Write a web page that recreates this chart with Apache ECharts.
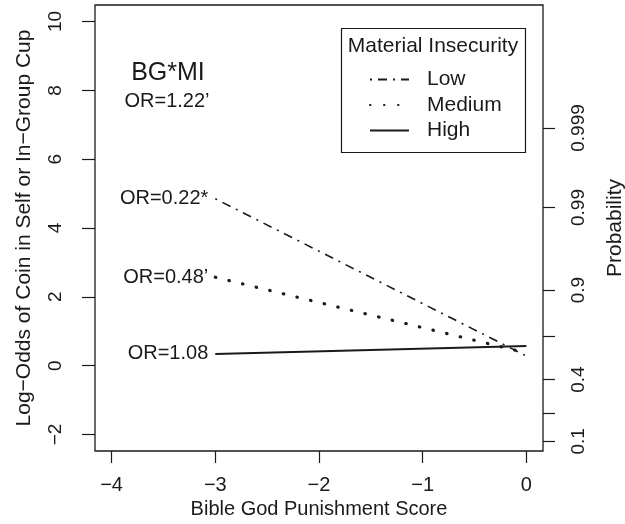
<!DOCTYPE html>
<html>
<head>
<meta charset="utf-8">
<script src="https://cdn.jsdelivr.net/npm/echarts@6/dist/echarts.min.js"></script>
<style>
  html, body { margin: 0; padding: 0; background: #fff; }
  #main { width: 625px; height: 524px; }
</style>
</head>
<body>
<div id="main"></div>
<script>
// ticks
const xTicks = [-4, -3, -2, -1, 0];
const yTicks = [-2, 0, 2, 4, 6, 8, 10];
const probTicks = [0.1, 0.2, 0.4, 0.7, 0.9, 0.99, 0.999];
const probLabels = [0.1, 0.4, 0.9, 0.99, 0.999];

// predicted log-odds at x = -3 and x = 0
const xValues = [-3, 0];
const groups = ['Low', 'Medium', 'High'];
const lowOdds = [4.85, 0.28];
const mediumOdds = [2.57, 0.37];
const highOdds = [0.34, 0.57];
const orLabels = ['OR=0.22*', 'OR=0.48\u2019', 'OR=1.08'];

const FONT = '"Liberation Sans", Arial, Helvetica, sans-serif';
const INK = '#1a1a1a';

const logit = p => Math.log(p / (1 - p));
const minus = v => (v < 0 ? '\u2212' + Math.abs(v) : String(v));

function lineData(vals, label) {
  return xValues.map((x, i) => {
    if (i === 0) {
      return {
        value: [x, vals[i]],
        symbol: 'circle',
        symbolSize: 0.01,
        label: {
          show: true, position: 'left', distance: 7,
          formatter: label, fontSize: 20, fontFamily: FONT, color: INK
        }
      };
    }
    return [x, vals[i]];
  });
}

const lineStyles = [
  { color: INK, width: 1.6, type: [2, 6, 9, 6] },
  { color: INK, width: 3.2, type: [0.5, 13.5], cap: 'round' },
  { color: INK, width: 2, type: 'solid' }
];
const oddsSets = [lowOdds, mediumOdds, highOdds];

const chart = echarts.init(document.getElementById('main'));

const option = {
  animation: false,
  textStyle: { fontFamily: FONT },
  grid: {
    left: 95, right: 82, top: 5, bottom: 73,
    outerBoundsMode: 'none',
    containLabel: false,
    show: true, borderColor: INK, borderWidth: 1.3, backgroundColor: 'transparent'
  },
  legend: {
    orient: 'vertical',
    left: 369, top: 69,
    padding: 0,
    itemWidth: 39, itemHeight: 14, itemGap: 4.5,
    selectedMode: false,
    data: groups,
    itemStyle: { opacity: 0, color: 'rgba(0,0,0,0)', borderWidth: 0 },
    textStyle: { fontSize: 21, fontFamily: FONT, color: INK, lineHeight: 20, padding: [0, 0, 0, 13] }
  },
  xAxis: {
    type: 'value',
    min: -4.16, max: 0.16,
    name: 'Bible God Punishment Score',
    nameLocation: 'middle', nameGap: 44,
    nameTextStyle: { fontSize: 20, color: INK, fontFamily: FONT },
    axisLine: { show: false, onZero: false },
    axisTick: { show: true, length: 12, customValues: xTicks, lineStyle: { color: INK, width: 1.2 } },
    axisLabel: { customValues: xTicks, formatter: minus, fontSize: 20, color: INK, margin: 24, fontFamily: FONT },
    splitLine: { show: false }
  },
  yAxis: [
    {
      type: 'value',
      min: -2.48, max: 10.48,
      name: 'Log\u2212Odds of Coin in Self or In\u2212Group Cup',
      nameLocation: 'middle', nameGap: 60, nameRotate: 90,
      nameTextStyle: { fontSize: 21, color: INK, fontFamily: FONT },
      axisLine: { show: false, onZero: false },
      axisTick: { show: true, length: 13, customValues: yTicks, lineStyle: { color: INK, width: 1.2 } },
      axisLabel: { customValues: yTicks, formatter: minus, rotate: 90, fontSize: 19, color: INK, margin: 30, fontFamily: FONT },
      splitLine: { show: false }
    },
    {
      type: 'value',
      position: 'right',
      min: -2.48, max: 10.48,
      name: 'Probability',
      nameLocation: 'middle', nameGap: 62, nameRotate: 90,
      nameTextStyle: { fontSize: 21, color: INK, fontFamily: FONT },
      axisLine: { show: false, onZero: false },
      axisTick: { show: true, length: 12, customValues: probTicks.map(logit), lineStyle: { color: INK, width: 1.2 } },
      axisLabel: {
        customValues: probLabels.map(logit),
        formatter: v => {
          let best = probLabels[0];
          probLabels.forEach(p => { if (Math.abs(logit(p) - v) < Math.abs(logit(best) - v)) best = p; });
          return String(best);
        },
        rotate: 90, fontSize: 19, color: INK, margin: 26, fontFamily: FONT
      },
      splitLine: { show: false }
    }
  ],
  graphic: [
    {
      type: 'rect', silent: true,
      shape: { x: 341.5, y: 28.5, width: 184, height: 124 },
      style: { fill: 'none', stroke: INK, lineWidth: 1.2 }
    },
    {
      type: 'text', silent: true, x: 433, y: 46,
      style: { text: 'Material Insecurity', fontSize: 21, fontFamily: FONT, fill: INK, align: 'center', verticalAlign: 'middle' }
    },
    {
      type: 'text', silent: true, x: 168, y: 73,
      style: { text: 'BG*MI', fontSize: 25, fontFamily: FONT, fill: INK, align: 'center', verticalAlign: 'middle' }
    },
    {
      type: 'text', silent: true, x: 167, y: 101,
      style: { text: 'OR=1.22\u2019', fontSize: 20, fontFamily: FONT, fill: INK, align: 'center', verticalAlign: 'middle' }
    }
  ],
  series: groups.map((g, i) => ({
    name: g,
    type: 'line',
    symbol: 'none',
    showSymbol: true,
    silent: true,
    emphasis: { disabled: true },
    itemStyle: { color: INK },
    lineStyle: lineStyles[i],
    data: lineData(oddsSets[i], orLabels[i])
  }))
};

chart.setOption(option);
</script>
</body>
</html>
